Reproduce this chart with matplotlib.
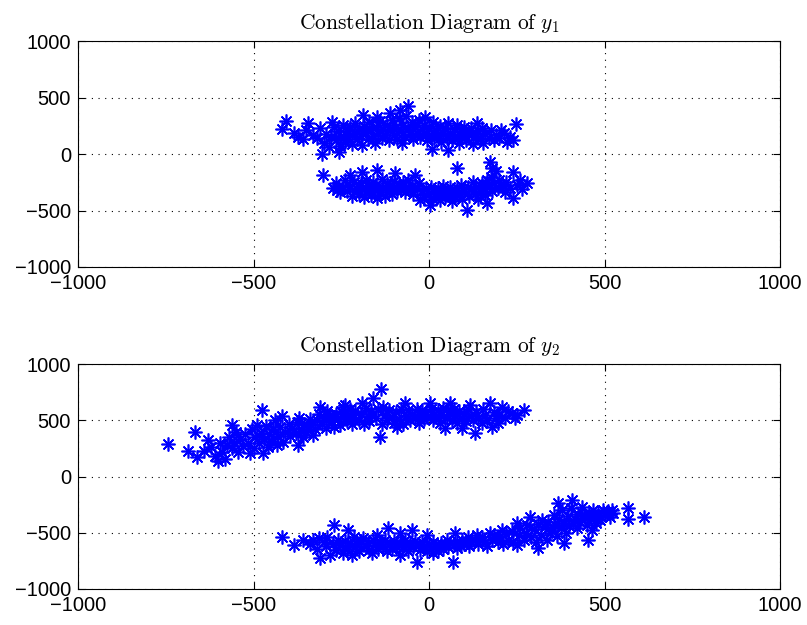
import numpy as np
from matplotlib import pyplot as plt

plt.rcParams['font.family'] = ['Liberation Sans', 'DejaVu Sans']
plt.rcParams['mathtext.fontset'] = 'cm'

# y1 constellation, upper group
y1a_x = [-420, -407, -372, -344, -330, -306, -258, -277, -188, -149, -111, -83, -59, -11, -78, 8, 55, 136, 212, 221, 248,
         -385, -360, -350, -320, -310, -300, -295, -285, -280, -270, -265, -260, -255, -250, -245, -240, -235, -230,
         -225, -220, -215, -210, -205, -200, -195, -190, -185, -180, -175, -170, -165, -160, -155, -150, -145, -140,
         -135, -130, -125, -120, -115, -110, -105, -100, -95, -90, -85, -80, -75, -70, -65, -60, -55, -50, -45, -40,
         -35, -30, -25, -20, -15, -10, -5, 0, 5, 10, 15, 20, 25, 30, 35, 40, 45, 50, 55, 60, 65, 70, 75, 80, 85, 90,
         95, 100, 105, 110, 115, 120, 125, 130, 140, 145, 150, 155, 160, 170, 175, 185, 190, 200, 205, 230, 240]
y1a_y = [218, 292, 153, 272, 168, -3, 20, 286, 345, 330, 363, 389, 425, 330, 95, 44, 35, 272, 183, 109, 263,
         190, 130, 210, 140, 230, 100, 180, 60, 150, 240, 120, 200, 70, 160, 260, 110, 200, 150,
         240, 90, 190, 270, 130, 220, 160, 80, 250, 190, 130, 280, 210, 160, 100, 240, 190, 290,
         140, 220, 170, 260, 120, 210, 300, 170, 240, 130, 320, 200, 260, 150, 340, 220, 180, 280, 130, 240,
         190, 300, 150, 220, 260, 180, 120, 230, 170, 280, 140, 210, 160, 250, 110, 190, 230, 140, 270, 180, 120, 220, 160, 260, 100, 200,
         150, 240, 120, 190, 170, 230, 90, 160, 200, 130, 230, 100, 180, 140, 210, 120, 170, 140, 210, 150, 120]

# y1 constellation, lower group
y1b_x = [-301, -263, -225, -192, -149, -149, -97, -40, -26, 3, 79, 107, 174, 164, 240, 278, 240,
         -275, -265, -255, -245, -240, -235, -225, -220, -215, -205, -200, -195, -190, -185, -180, -175, -170, -165,
         -160, -155, -150, -140, -135, -130, -125, -120, -115, -110, -105, -100, -95, -90, -85, -80, -75, -70, -65,
         -60, -55, -50, -45, -35, -30, -20, -15, -10, 0, 5, 10, 15, 20, 25, 30, 35, 40, 45, 50, 55, 60, 65, 70, 75,
         80, 85, 90, 95, 100, 110, 115, 120, 125, 130, 135, 140, 145, 150, 155, 160, 165, 170, 175, 180, 185, 190,
         195, 200, 210, 215, 220, 230, 250, 260, 265, 180]
y1b_y = [-186, -319, -186, -156, -142, -392, -171, -186, -407, -451, -127, -496, -68, -436, -392, -259, -156,
         -300, -260, -340, -290, -230, -330, -280, -370, -250, -310, -350, -260, -300, -380, -230, -330, -280, -360,
         -250, -310, -270, -340, -220, -300, -370, -260, -320, -280, -350, -240, -300, -330, -270, -310, -250, -340, -290,
         -230, -320, -280, -350, -300, -260, -330, -380, -300, -350, -290, -400, -330, -370, -300, -410, -340, -280, -380, -320, -360, -290, -420, -340, -380,
         -300, -350, -270, -400, -330, -290, -370, -310, -250, -350, -290, -400, -330, -260, -300, -360, -230, -290, -200, -330, -260, -150,
         -300, -230, -280, -340, -250, -300, -270, -230, -310, -120]

# y2 constellation, upper group
y2a_x = [-743, -667, -686, -662, -629, -600, -562, -576, -543, -510, -477, -472, -434, -420, -372, -372, -311, -330,
         -287, -239, -244, -282, -244, -192, -159, -138, -140, -130, -92, -68, 3, 46, 60, 93, 117, 131, 174, 179,
         207, 236, 269, 245,
         -640, -620, -610, -595, -590, -580, -570, -560, -555, -550, -540, -530, -525, -515, -505, -500, -495, -490,
         -485, -480, -470, -465, -460, -455, -450, -445, -440, -430, -425, -415, -410, -400, -395, -390, -380, -370,
         -365, -360, -355, -350, -345, -340, -335, -325, -320, -315, -305, -300, -295, -290, -280, -270, -265, -260,
         -255, -250, -235, -230, -225, -220, -215, -210, -200, -195, -185, -180, -175, -170, -165, -150, -145, -135,
         -125, -120, -115, -105, -100, -95, -85, -80, -75, -65, -60, -55, -50, -40, -35, -30, -25, -20, -15, -10, -5,
         5, 10, 15, 20, 25, 30, 35, 40, 50, 55, 65, 70, 75, 80, 85, 95, 100, 105, 110, 120, 125, 135, 140, 150, 155,
         160, 165, 185, 190, 195, 200, 215, 225, 250]
y2a_y = [286, 393, 227, 176, 324, 138, 458, 280, 220, 206, 591, 206, 280, 540, 487, 280, 620, 369,
         532, 636, 532, 547, 620, 650, 695, 778, 354, 620, 443, 650, 650, 428, 650, 428, 636, 384, 650, 443,
         620, 562, 591, 517,
         230, 260, 180, 300, 220, 160, 350, 250, 300, 400, 330, 270, 380, 300, 420, 250, 350, 460,
         300, 390, 330, 450, 260, 380, 320, 420, 500, 360, 440, 310, 400, 470, 360, 430, 390, 520,
         420, 350, 470, 400, 440, 510, 460, 420, 500, 560, 470, 520, 430, 580, 490, 440, 560, 510,
         460, 580, 490, 550, 600, 470, 530, 580, 500, 560, 470, 610, 540, 490, 580, 520, 600, 470,
         550, 500, 590, 530, 480, 570, 510, 600, 470, 540, 590, 500, 560, 520, 600, 480, 550, 590, 510, 570, 530,
         600, 500, 560, 530, 590, 480, 550, 610, 520, 570, 500, 600, 540, 480, 580, 520, 560, 490, 600, 540, 500, 570, 520, 480, 600,
         550, 500, 570, 520, 480, 550, 520, 580, 550]

# y2 constellation, lower group
y2b_x = [-420, -386, -358, -315, -311, -282, -271, -244, -230, -220, -187, -149, -163, -116, -83, -83, -49, -35,
         -7, 12, 74, 69, 31, 136, 174, 207, 250, 250, 288, 311, 321, 368, 407, 383, 345, 411, 440, 454, 468, 464,
         506, 525, 568, 568, 613, 487, 79,
         -340, -330, -320, -300, -295, -290, -275, -265, -260, -255, -240, -235, -225, -215, -210, -205, -200, -195,
         -180, -175, -170, -160, -155, -145, -140, -130, -125, -120, -110, -105, -100, -95, -90, -75, -70, -65, -60,
         -55, -45, -40, -30, -25, -20, -15, -5, 0, 5, 10, 20, 25, 35, 40, 45, 50, 55, 60, 70, 80, 90, 95, 100, 110,
         115, 120, 130, 140, 150, 160, 165, 180, 185, 195, 200, 210, 220, 225, 235, 240, 255, 260, 270, 275, 280,
         290, 300, 305, 310, 320, 330, 335, 340, 350, 355, 360, 365, 370, 375, 380, 385, 390, 395, 400, 405, 415,
         420, 425, 430, 435, 445, 450, 455, 460, 470, 475, 480, 490, 495, 500, 510, 515, 520]
y2b_y = [-541, -609, -564, -550, -727, -698, -431, -683, -476, -698, -550, -520, -683, -461, -505, -698, -476, -757,
         -520, -683, -505, -757, -624, -520, -505, -476, -417, -609, -357, -638, -387, -239, -209, -594, -505, -417, -342, -565, -298, -476,
         -313, -328, -283, -381, -357, -387, -638,
         -600, -560, -640, -580, -620, -540, -600, -650, -560, -610, -570, -640, -590, -540, -630, -600, -660, -570,
         -620, -590, -650, -560, -610, -640, -580, -620, -560, -660, -600, -640, -570, -620, -590, -630, -560, -610, -660,
         -590, -630, -570, -610, -650, -580, -620, -660, -600, -640, -580, -620, -660, -590, -640, -600, -560, -630, -590, -610, -570, -620, -560, -600, -540,
         -620, -580, -560, -600, -540, -580, -620, -560, -520, -580, -540, -600, -510, -560, -480, -580, -520, -460, -560, -500, -430,
         -540, -470, -580, -420, -520, -450, -560, -400, -480, -340, -430, -530, -380, -460, -300, -410, -500, -350, -440, -280, -380,
         -460, -330, -400, -270, -370, -430, -320, -380, -350, -410, -320, -360, -300, -340, -310, -360, -300]

ticks = [-1000, -500, 0, 500, 1000]

fig = plt.figure(figsize=(8.07, 6.25), dpi=100)
ax1 = fig.add_axes([0.0967, 0.5728, 0.870, 0.3616])
ax2 = fig.add_axes([0.0967, 0.0576, 0.870, 0.3600])

groups = [(ax1, y1a_x, y1a_y, y1b_x, y1b_y, r'$\mathrm{Constellation\ Diagram\ of\ }y_1$'),
          (ax2, y2a_x, y2a_y, y2b_x, y2b_y, r'$\mathrm{Constellation\ Diagram\ of\ }y_2$')]

for ax, xa, ya, xb, yb, title in groups:
  ax.plot(xa, ya, linestyle='none', marker=(8, 2, 0), color='b', ms=10, mew=1.2)
  ax.plot(xb, yb, linestyle='none', marker=(8, 2, 0), color='b', ms=10, mew=1.2)
  ax.set_xlim(-1000, 1000)
  ax.set_ylim(-1000, 1000)
  ax.set_xticks(ticks)
  ax.set_yticks(ticks)
  ax.grid(True, linestyle=(0, (1, 5)), color='black', linewidth=0.8)
  ax.tick_params(direction='in', length=5, top=True, right=True, labelsize=14.5, width=0.8)
  ax.tick_params(axis='x', pad=5)
  ax.tick_params(axis='y', pad=5)
  for s in ax.spines.values():
    s.set_linewidth(0.8)
  ax.set_title(title, fontsize=15.5, pad=9)

plt.savefig('out.png', dpi=100)
